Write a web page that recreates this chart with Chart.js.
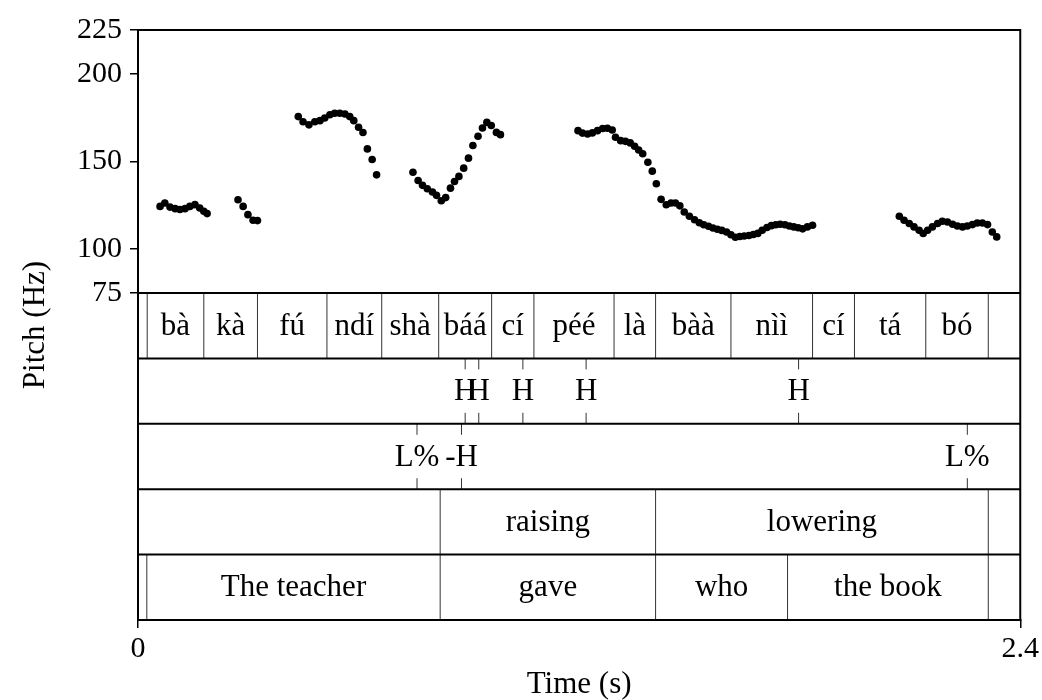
<!DOCTYPE html>
<html>
<head>
<meta charset="utf-8">
<script src="https://cdn.jsdelivr.net/npm/chart.js@4/dist/chart.umd.min.js"></script>
<style>
  html, body { margin: 0; padding: 0; background: #fff; }
</style>
</head>
<body>
<canvas id="pitchChart" width="1042" height="700"></canvas>
<script>
// pitch track (s, Hz), one line per voiced stretch
const pitchTimes = [
  0.060, 0.073, 0.087, 0.101, 0.114, 0.128, 0.141, 0.155, 0.168, 0.179, 0.188,
  0.272, 0.286, 0.299, 0.313, 0.325,
  0.436, 0.449, 0.465, 0.481, 0.495, 0.508, 0.522, 0.535, 0.549, 0.563, 0.576, 0.587, 0.600, 0.612, 0.624, 0.637, 0.649,
  0.748, 0.762, 0.774, 0.787, 0.801, 0.812, 0.825, 0.837, 0.850, 0.861, 0.873, 0.886, 0.899, 0.911, 0.925, 0.937, 0.949, 0.961, 0.975, 0.986,
  1.197, 1.209, 1.223, 1.236, 1.250, 1.264, 1.277, 1.290, 1.299, 1.313, 1.326, 1.339, 1.351, 1.362, 1.373, 1.387, 1.399, 1.410,
  1.423, 1.437, 1.450, 1.462, 1.474, 1.486, 1.500, 1.514, 1.527, 1.539, 1.552, 1.564, 1.576, 1.588, 1.601, 1.613, 1.625, 1.637,
  1.649, 1.662, 1.674, 1.686, 1.698, 1.711, 1.723, 1.735, 1.747, 1.760, 1.772, 1.784, 1.796, 1.808, 1.821, 1.835,
  2.071, 2.084, 2.098, 2.111, 2.125, 2.136, 2.148, 2.161, 2.175, 2.188, 2.202, 2.216, 2.229, 2.243, 2.256, 2.270, 2.283, 2.297, 2.311, 2.324, 2.336
];
const pitchHz = [
  124.4, 126.3, 124.0, 123.1, 122.6, 123.1, 124.4, 125.4, 123.5, 121.6, 120.3,
  128.2, 124.4, 119.7, 116.5, 116.3,
  175.6, 172.7, 170.9, 172.7, 173.3, 174.8, 176.7, 177.5, 177.5, 177.1, 175.6, 173.3, 169.5, 166.5, 157.2, 151.1, 142.4,
  143.9, 139.2, 136.4, 134.5, 132.6, 130.7, 127.6, 129.4, 134.8, 138.6, 141.5, 146.2, 151.9, 159.1, 164.4, 169.1, 172.3, 170.5, 166.6, 165.3,
  167.6, 166.2, 165.7, 166.3, 167.6, 168.8, 169.0, 168.0, 163.8, 161.9, 161.5, 160.6, 158.7, 156.6, 154.4, 149.6, 144.5, 137.3,
  128.4, 125.3, 126.3, 126.3, 124.7, 121.2, 118.8, 116.8, 115.1, 113.9, 113.1, 112.1, 111.4, 110.7, 109.8, 108.2, 106.8, 107.2,
  107.5, 107.8, 108.4, 109.0, 110.8, 112.4, 113.4, 113.9, 114.2, 113.9, 113.2, 112.7, 112.2, 111.6, 112.7, 113.6,
  118.8, 116.5, 114.6, 112.7, 110.8, 108.9, 110.8, 112.7, 114.6, 115.9, 115.5, 114.2, 113.2, 112.7, 113.2, 114.0, 114.9, 114.9, 114.0, 109.8, 107.0
];

const yTicks = [75, 100, 150, 200, 225];
const xTicks = [0, 2.4];

// textgrid tiers
const syllableBounds = [0.025, 0.179, 0.325, 0.514, 0.663, 0.818, 0.962, 1.077, 1.295, 1.408, 1.613, 1.835, 1.949, 2.143, 2.313];
const syllableLabels = ['', 'bà', 'kà', 'fú', 'ndí', 'shà', 'báá', 'cí', 'péé', 'là', 'bàà', 'nìì', 'cí', 'tá', 'bó', ''];
const toneTimes = [0.890, 0.927, 1.047, 1.219, 1.797];
const toneLabels = ['H', 'H', 'H', 'H', 'H'];
const boundaryTimes = [0.759, 0.880, 2.256];
const boundaryLabels = ['L%', '-H', 'L%'];
const rangeBounds = [0.822, 1.408, 2.313];
const rangeLabels = ['', 'raising', 'lowering', ''];
const glossBounds = [0.024, 0.822, 1.408, 1.767, 2.313];
const glossLabels = ['', 'The teacher', 'gave', 'who', 'the book', ''];

const tiers = [
  { kind: 'interval', bounds: syllableBounds, labels: syllableLabels },
  { kind: 'point', times: toneTimes, labels: toneLabels },
  { kind: 'point', times: boundaryTimes, labels: boundaryLabels },
  { kind: 'interval', bounds: rangeBounds, labels: rangeLabels },
  { kind: 'interval', bounds: glossBounds, labels: glossLabels }
];

const serif = "'Liberation Serif', 'Times New Roman', serif";
Chart.defaults.font.family = serif;
Chart.defaults.color = '#000';

const tierPlugin = {
  id: 'tiers',
  afterDraw(chart) {
    const { ctx, chartArea: a, scales: { x, y } } = chart;
    const top = y.getPixelForValue(75);
    const h = (a.bottom - top) / tiers.length;
    const px = v => x.getPixelForValue(v);
    const line = (x0, y0, x1, y1) => { ctx.beginPath(); ctx.moveTo(x0, y0); ctx.lineTo(x1, y1); ctx.stroke(); };

    ctx.save();
    ctx.font = '31px ' + serif;
    ctx.fillStyle = '#000';
    ctx.textAlign = 'center';
    ctx.textBaseline = 'middle';
    tiers.forEach((tier, i) => {
      const t0 = top + i * h, t1 = t0 + h, mid = (t0 + t1) / 2 + 1;
      ctx.strokeStyle = '#333';
      ctx.lineWidth = 1;
      if (tier.kind === 'interval') {
        tier.bounds.forEach(b => line(px(b), t0, px(b), t1));
        const edges = [x.min, ...tier.bounds, x.max];
        tier.labels.forEach((lab, k) => {
          if (lab) ctx.fillText(lab, (px(edges[k]) + px(edges[k + 1])) / 2, mid);
        });
      } else {
        tier.times.forEach((t, k) => {
          line(px(t), t0, px(t), t0 + 11);
          line(px(t), t1 - 11, px(t), t1);
          ctx.fillText(tier.labels[k], px(t), mid);
        });
      }
    });
    ctx.strokeStyle = '#000';
    ctx.lineWidth = 2;
    for (let k = 0; k < tiers.length; k++) line(a.left, top + k * h, a.right, top + k * h);
    ctx.strokeRect(a.left, a.top, a.right - a.left, a.bottom - a.top);
    ctx.restore();
  }
};

const points = pitchTimes.map((t, i) => ({ x: t, y: pitchHz[i] }));

const config = {
  type: 'scatter',
  data: {
    datasets: [{
      data: points,
      backgroundColor: '#000',
      borderColor: '#000',
      pointRadius: 3.8,
      pointHoverRadius: 3.8,
      borderWidth: 0
    }]
  },
  options: {
    responsive: false,
    animation: false,
    layout: { padding: { top: 30, right: 21, left: 0, bottom: 0 } },
    plugins: { legend: { display: false }, tooltip: { enabled: false } },
    scales: {
      x: {
        type: 'linear',
        min: 0,
        max: 2.4,
        afterBuildTicks: s => { s.ticks = xTicks.map(v => ({ value: v })); },
        afterFit: s => { s.height = 80; },
        ticks: { font: { size: 30 }, color: '#000', maxRotation: 0, autoSkip: false, padding: 3, callback: v => String(v) },
        grid: { drawOnChartArea: false, drawTicks: true, tickLength: 8, color: '#000', lineWidth: 1.5 },
        border: { display: true, color: '#000', width: 2 },
        title: { display: true, text: 'Time (s)', font: { size: 31, lineHeight: 1 }, color: '#000', padding: { top: 0, bottom: 0 } }
      },
      y: {
        type: 'linear',
        min: -111.5,
        max: 225,
        afterBuildTicks: s => { s.ticks = yTicks.map(v => ({ value: v })); },
        afterFit: s => { s.width = 138; },
        ticks: { font: { size: 30 }, color: '#000', padding: 8 },
        grid: { drawOnChartArea: false, drawTicks: true, tickLength: 8, color: '#000', lineWidth: 1.5 },
        border: { display: true, color: '#000', width: 2 },
        title: { display: true, text: 'Pitch (Hz)', font: { size: 31 }, color: '#000', padding: { top: 17, bottom: 0 } }
      }
    }
  },
  plugins: [tierPlugin]
};

const myChart = new Chart(document.getElementById('pitchChart'), config);
</script>
</body>
</html>
